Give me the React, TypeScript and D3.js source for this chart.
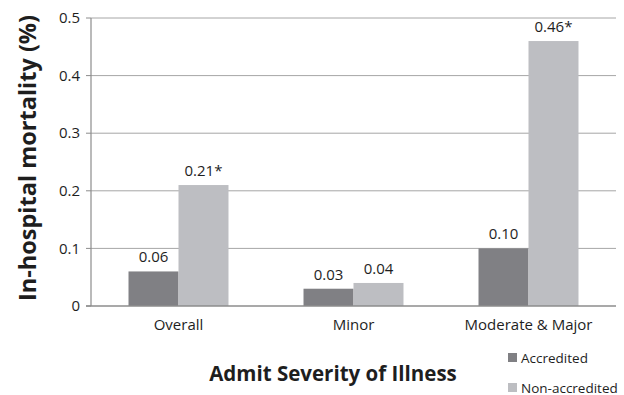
import React from "react";
import * as d3 from "d3";

const categories = ["Overall", "Minor", "Moderate & Major"];
const seriesNames = ["Accredited", "Non-accredited"];
const accredited = [0.06, 0.03, 0.1];
const nonAccredited = [0.21, 0.04, 0.46];
const accreditedLabels = ["0.06", "0.03", "0.10"];
const nonAccreditedLabels = ["0.21*", "0.04", "0.46*"];
const yTicks = [0, 0.1, 0.2, 0.3, 0.4, 0.5];
const colors = ["#808084", "#bdbec2"];

const W = 624, H = 395;
const M = { left: 91, right: 616, top: 18, bottom: 306 };
const FONT = "'Open Sans', sans-serif";

export default function App() {
  const x = d3.scaleBand<string>().domain(categories).range([M.left, M.right]).paddingInner(0.4286).paddingOuter(0.2143);
  const y = d3.scaleLinear().domain([0, 0.5]).range([M.bottom, M.top]);
  const xs = d3.scaleBand<string>().domain(seriesNames).range([0, x.bandwidth()]);
  const series = [
    { name: seriesNames[0], values: accredited, labels: accreditedLabels, color: colors[0] },
    { name: seriesNames[1], values: nonAccredited, labels: nonAccreditedLabels, color: colors[1] },
  ];
  return (
    <svg width={W} height={H} style={{ position: "absolute", left: 0, top: 0 }} fontFamily={FONT}>
      <rect width={W} height={H} fill="#fff" />
      {yTicks.map((t) => (
        <g key={t}>
          {t > 0 && <line x1={M.left} x2={M.right} y1={y(t)} y2={y(t)} stroke="#a6a6a6" strokeWidth={1} />}
          <line x1={M.left - 5} x2={M.left} y1={y(t)} y2={y(t)} stroke="#8c8c8c" strokeWidth={1} />
          <text x={M.left - 11} y={y(t)} dy="0.35em" textAnchor="end" fontSize={15} fill="#1e1e1e">{d3.format("")(t)}</text>
        </g>
      ))}
      {series.map((s) =>
        categories.map((c, i) => {
          const bx = (x(c) as number) + (xs(s.name) as number);
          const bw = xs.bandwidth();
          return (
            <g key={s.name + c}>
              <rect x={bx} y={y(s.values[i])} width={bw} height={M.bottom - y(s.values[i])} fill={s.color} />
              <text x={bx + bw / 2} y={y(s.values[i]) - 9} textAnchor="middle" fontSize={15} fill="#1e1e1e">{s.labels[i]}</text>
            </g>
          );
        })
      )}
      <line x1={M.left} x2={M.left} y1={M.top} y2={M.bottom} stroke="#8c8c8c" strokeWidth={1.2} />
      <line x1={M.left - 5} x2={M.right} y1={M.bottom} y2={M.bottom} stroke="#8c8c8c" strokeWidth={1.5} />
      {categories.map((c) => (
        <text key={c} x={(x(c) as number) + x.bandwidth() / 2} y={330} textAnchor="middle" fontSize={15} fill="#1e1e1e">{c}</text>
      ))}
      <text transform={`translate(36,158) rotate(-90)`} textAnchor="middle" fontSize={23.5} fontWeight="bold" fill="#1e1e1e">In-hospital mortality (%)</text>
      <text x={333} y={381} textAnchor="middle" fontSize={20.5} fontWeight="bold" fill="#1e1e1e">Admit Severity of Illness</text>
      {series.map((s, i) => (
        <g key={s.name} transform={`translate(508,${353 + i * 30})`}>
          <rect x={0} y={0} width={9} height={9} fill={s.color} />
          <text x={13} y={9.5} fontSize={13.5} fill="#1e1e1e">{s.name}</text>
        </g>
      ))}
    </svg>
  );
}
